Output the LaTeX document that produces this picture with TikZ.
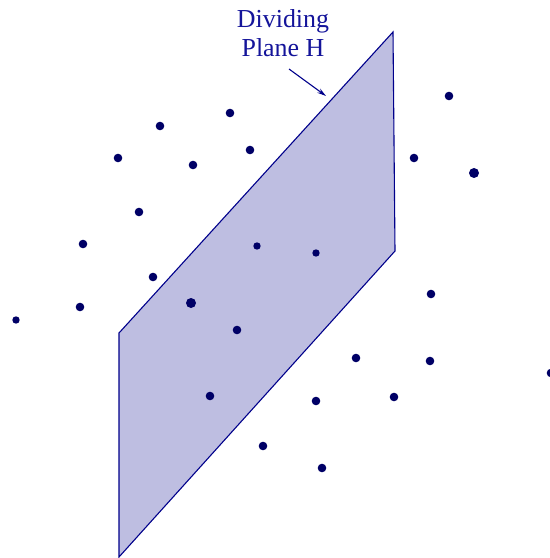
\documentclass[tikz,border=0pt]{standalone}
\usepackage{fontspec}
\setmainfont{Liberation Serif}
\usetikzlibrary{arrows.meta}
\definecolor{navy}{HTML}{000066}
\definecolor{planefill}{HTML}{BEBEE1}
\definecolor{planeline}{HTML}{00008B}
\definecolor{labelblue}{HTML}{14149A}
\tikzset{
  pt/.style={circle,fill=navy,inner sep=0pt,minimum size=8.6bp},
  bigpt/.style={pt,minimum size=10bp},
  smallpt/.style={pt,minimum size=7.4bp},
  plane/.style={fill=planefill,draw=planeline,line width=1.1bp,line join=miter},
  lbl/.style={text=labelblue,align=center,font=\fontsize{26}{29}\selectfont,inner sep=0pt},
  pointer/.style={draw=planeline,line width=1.1bp,-{Stealth[length=9bp,width=5bp]}}
}
\begin{document}
\begin{tikzpicture}[x=1bp,y=-1bp]
\useasboundingbox (0,0) rectangle (550,558);
% plane
\coordinate (p1) at (119,333);
\coordinate (p2) at (393,32);
\coordinate (p3) at (395,251);
\coordinate (p4) at (119,557);
\path[plane] (p1) -- (p2) -- (p3) -- (p4) -- cycle;
% label
\node[lbl] (label) at (283,33) {Dividing\\Plane H};
\coordinate (tip) at (326,96);
\coordinate (tail) at (289,69);
\draw[pointer] (tail) -- (tip);
% points
\node[pt] (d1) at (449,96) {};
\node[pt] (d2) at (160,126) {};
\node[pt] (d3) at (230,113) {};
\node[pt] (d4) at (118,158) {};
\node[pt] (d5) at (193,165) {};
\node[pt] (d6) at (250,150) {};
\node[pt] (d7) at (414,158) {};
\node[bigpt] (d8) at (474,173) {};
\node[pt] (d9) at (139,212) {};
\node[pt] (d10) at (83,244) {};
\node[smallpt] (d11) at (257,246) {};
\node[smallpt] (d12) at (316,253) {};
\node[pt] (d13) at (153,277) {};
\node[smallpt] (d14) at (16,320) {};
\node[pt] (d15) at (80,307) {};
\node[bigpt] (d16) at (191,303) {};
\node[pt] (d17) at (431,294) {};
\node[pt] (d18) at (237,330) {};
\node[pt] (d19) at (356,358) {};
\node[pt] (d20) at (430,361) {};
\node[pt] (d21) at (551,373) {};
\node[pt] (d22) at (210,396) {};
\node[pt] (d23) at (316,401) {};
\node[pt] (d24) at (394,397) {};
\node[pt] (d25) at (263,446) {};
\node[pt] (d26) at (322,468) {};
\end{tikzpicture}
\end{document}
